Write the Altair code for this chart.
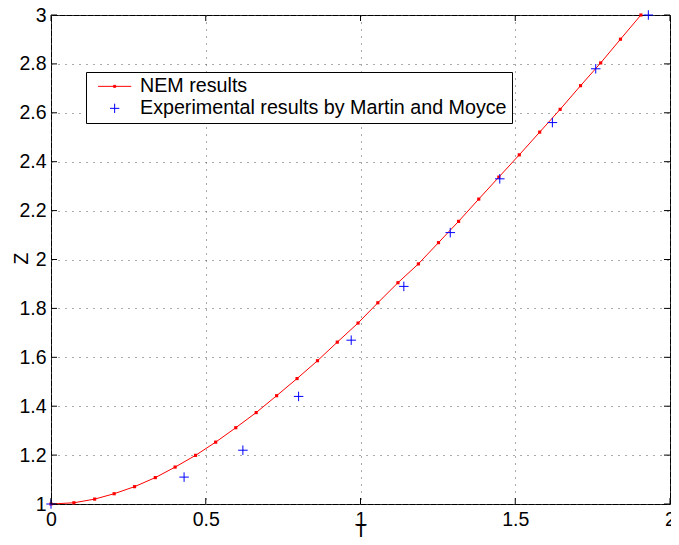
import altair as alt
import pandas as pd

# ---- data ----
T_nem = [0.000, 0.074, 0.141, 0.204, 0.270, 0.337, 0.401, 0.467, 0.532, 0.597,
         0.663, 0.729, 0.795, 0.861, 0.925, 0.992, 1.056, 1.121, 1.187, 1.252,
         1.317, 1.382, 1.447, 1.513, 1.579, 1.645, 1.711, 1.776, 1.840, 1.906]
Z_nem = [1.000, 1.005, 1.020, 1.042, 1.071, 1.108, 1.151, 1.199, 1.253, 1.312,
         1.374, 1.443, 1.513, 1.586, 1.662, 1.740, 1.823, 1.905, 1.982, 2.069,
         2.156, 2.247, 2.337, 2.428, 2.521, 2.614, 2.711, 2.804, 2.901, 3.000]
T_exp = [0.00, 0.43, 0.62, 0.80, 0.97, 1.14, 1.29, 1.45, 1.62, 1.76, 1.93]
Z_exp = [1.00, 1.11, 1.22, 1.44, 1.67, 1.89, 2.11, 2.33, 2.56, 2.78, 3.00]
x_ticks = [0, 0.5, 1, 1.5, 2]
y_ticks = [1, 1.2, 1.4, 1.6, 1.8, 2, 2.2, 2.4, 2.6, 2.8, 3]
series_names = ["NEM results", "Experimental results by Martin and Moyce"]
series_colors = ["#ff0000", "#0000ff"]

W, H = 619, 489
FONT = "Liberation Sans"

nem = pd.DataFrame({"T": T_nem, "Z": Z_nem, "series": series_names[0]})
exp = pd.DataFrame({"T": T_exp, "Z": Z_exp, "series": series_names[1]})
xt = pd.DataFrame({"T": x_ticks})
yt = pd.DataFrame({"Z": y_ticks})

LINE_SYM = "M-1.95,0L1.95,0M-0.12,-0.12L0.12,-0.12L0.12,0.12L-0.12,0.12Z"
PLUS_SYM = "M-0.55,0L0.55,0M0,-0.55L0,0.55"

xs = alt.Scale(domain=[0, 2], nice=False, zero=False)
ys = alt.Scale(domain=[1, 3], nice=False, zero=False)

x_enc = alt.X("T:Q", scale=xs, axis=alt.Axis(
    values=x_ticks, format="~g", title="T", grid=True, ticks=False, domain=False,
    labelPadding=6, labelFlush=False, titleY=33, titleBaseline="alphabetic"))
y_enc = alt.Y("Z:Q", scale=ys, axis=alt.Axis(
    values=y_ticks, format="~g", title="Z", grid=True, ticks=False, domain=False,
    labelPadding=5, labelFlush=False, titleX=-30, titleY=243, titleBaseline="middle"))

leg = alt.Legend(title=None, orient="none", legendX=35, legendY=57,
                 strokeColor="black", fillColor="white", padding=4.5,
                 labelFontSize=19.7, labelFont=FONT, labelColor="black", labelLimit=600,
                 symbolSize=289, symbolStrokeWidth=1, symbolOffset=14.3,
                 labelOffset=15.5, rowPadding=1)

color = alt.Color("series:N", scale=alt.Scale(domain=series_names, range=series_colors), legend=leg)
shape = alt.Shape("series:N", scale=alt.Scale(domain=series_names, range=[LINE_SYM, PLUS_SYM]), legend=leg)

line = alt.Chart(nem).mark_line(
    strokeWidth=1,
    point=alt.OverlayMarkDef(filled=True, shape="square", size=10, color="#ff0000"),
).encode(x=x_enc, y=y_enc, color=color)

pts = alt.Chart(exp).mark_point(filled=False, size=300, strokeWidth=1, opacity=1).encode(
    x=x_enc, y=y_enc, color=color, shape=shape)

tick_b = alt.Chart(xt).mark_rule(color="black", strokeWidth=1).encode(
    x=alt.X("T:Q", scale=xs), y=alt.value(H), y2=alt.value(H - 6))
tick_t = alt.Chart(xt).mark_rule(color="black", strokeWidth=1).encode(
    x=alt.X("T:Q", scale=xs), y=alt.value(0), y2=alt.value(6))
tick_l = alt.Chart(yt).mark_rule(color="black", strokeWidth=1).encode(
    y=alt.Y("Z:Q", scale=ys), x=alt.value(0), x2=alt.value(6))
tick_r = alt.Chart(yt).mark_rule(color="black", strokeWidth=1).encode(
    y=alt.Y("Z:Q", scale=ys), x=alt.value(W), x2=alt.value(W - 6))

chart = alt.layer(line, pts, tick_b, tick_t, tick_l, tick_r).properties(
    width=W, height=H,
    autosize=alt.AutoSizeParams(type="none"),
    padding={"left": 43, "top": 7, "right": 1, "bottom": 33},
    background="white",
).configure_view(
    stroke="black", strokeWidth=1
).configure_axis(
    labelFont=FONT, titleFont=FONT, labelFontSize=19.5, titleFontSize=19.5,
    labelColor="black", titleColor="black", titleFontWeight="normal",
    gridColor="#555555", gridDash=[1, 6], gridOpacity=1, gridWidth=1,
)

chart.save("out.html", embed_options={"renderer": "svg", "actions": False})
